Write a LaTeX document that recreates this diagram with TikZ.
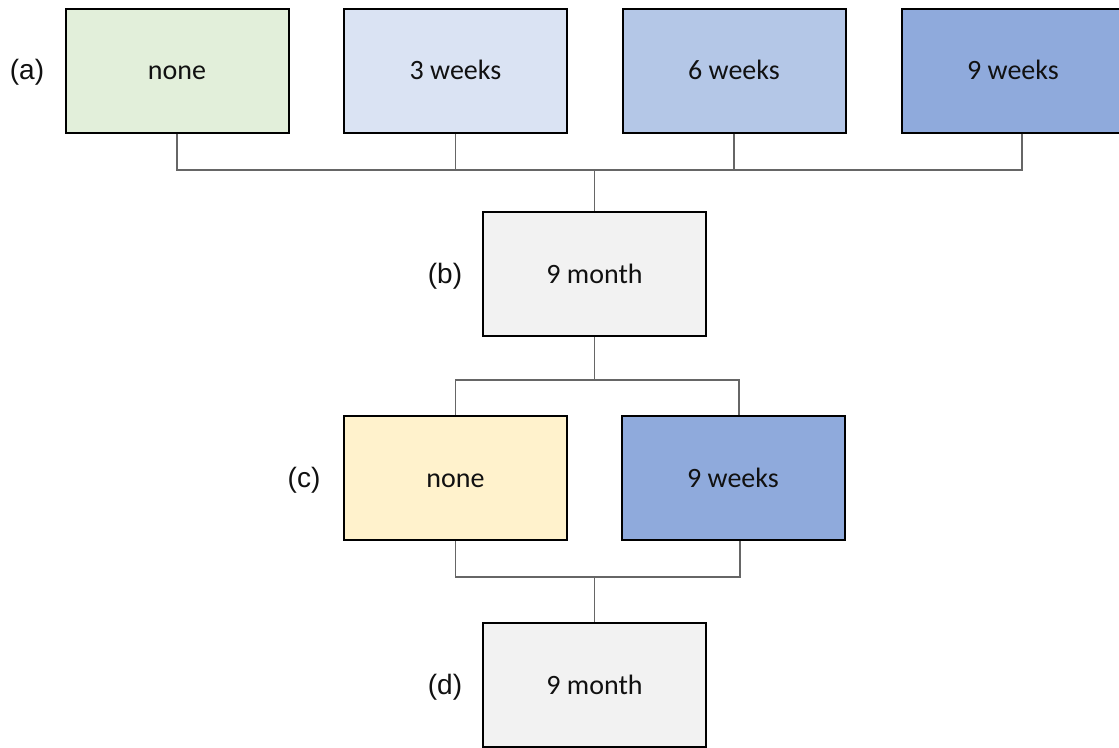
\documentclass[tikz,border=0pt]{standalone}
\usepackage{fontspec}
\setmainfont{Carlito}
\newfontfamily\labfont{Liberation Sans}
\definecolor{cgreen}{HTML}{E2EFDA}
\definecolor{cblue1}{HTML}{DAE3F3}
\definecolor{cblue2}{HTML}{B4C7E7}
\definecolor{cblue3}{HTML}{8FAADC}
\definecolor{cyellow}{HTML}{FFF2CC}
\definecolor{cgrey}{HTML}{F2F2F2}
\definecolor{linegrey}{HTML}{666666}
\definecolor{txt}{HTML}{111111}
\tikzset{
  box/.style={draw=black, line width=2pt, rectangle, minimum width=223pt, minimum height=124pt, inner sep=0pt, text height=19pt, text depth=1pt, text=txt, font=\fontsize{28}{32}\selectfont},
  lab/.style={inner sep=0pt, text height=19pt, text depth=1pt, text=txt, font=\labfont\fontsize{28}{32}\selectfont},
  conn/.style={draw=linegrey, line width=1.4pt}
}
\begin{document}
\begin{tikzpicture}[x=1pt,y=-1pt]
\useasboundingbox (0,0) rectangle (1119,747);
\fill[white] (0,0) rectangle (1119,747);
% row (a)
\node[box, fill=cgreen] (a1) at (177,70.5) {none};
\node[box, fill=cblue1] (a2) at (455.5,70.5) {3 weeks};
\node[box, fill=cblue2] (a3) at (734,70.5) {6 weeks};
\node[box, fill=cblue3] (a4) at (1013,70.5) {9 weeks};
\node[lab] (la) at (27,70.5) {(a)};
% row (b)
\node[box, fill=cgrey] (b) at (594.5,274) {9 month};
\node[lab] (lb) at (445,274) {(b)};
% row (c)
\node[box, fill=cyellow] (c1) at (455.5,478) {none};
\node[box, fill=cblue3] (c2) at (733,478) {9 weeks};
\node[lab] (lc) at (304,478) {(c)};
% row (d)
\node[box, fill=cgrey] (d) at (594.5,685) {9 month};
\node[lab] (ld) at (445,685) {(d)};
% connectors
\coordinate (busA) at (594.5,170);
\coordinate (busB) at (594.5,380);
\coordinate (busC) at (594.5,577);
\draw[conn] (a1.south) |- (busA);
\draw[conn] (a2.south) |- (busA);
\draw[conn] (a3.south) |- (busA);
\draw[conn] ([xshift=9pt]a4.south) |- (busA);
\draw[conn] (busA) -- (b.north);
\draw[conn] (b.south) -- (busB);
\draw[conn] (busB) -| (c1.north);
\draw[conn] (busB) -| ([xshift=6pt]c2.north);
\draw[conn] (c1.south) |- (busC);
\draw[conn] ([xshift=7pt]c2.south) |- (busC);
\draw[conn] (busC) -- (d.north);
\end{tikzpicture}
\end{document}
